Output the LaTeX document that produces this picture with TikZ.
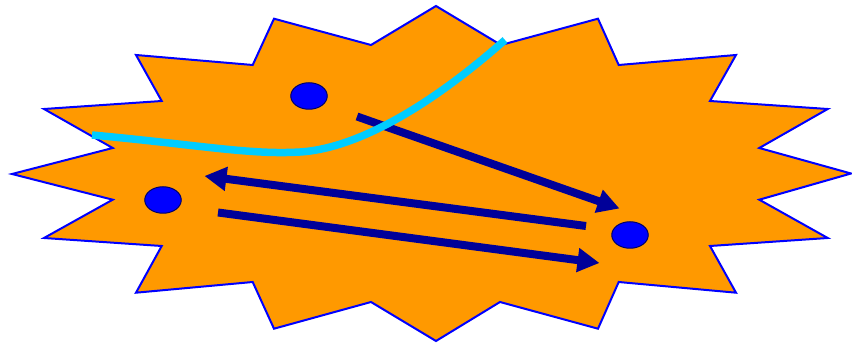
\documentclass[tikz,border=0pt]{standalone}
\usepackage{tikz}
\usetikzlibrary{arrows.meta,shapes.geometric}
\definecolor{burstorange}{HTML}{FF9900}
\definecolor{burstblue}{HTML}{0000FF}
\definecolor{arrownavy}{HTML}{000099}
\definecolor{curvecyan}{HTML}{00CCFF}
\definecolor{dotedge}{HTML}{000066}

\begin{document}
\begin{tikzpicture}[x=1pt, y=-1pt,
    dot/.style={draw=dotedge, fill=burstblue, ellipse, line width=1pt, minimum width=36.5pt, minimum height=26.5pt, inner sep=0pt},
    flow/.style={draw=arrownavy, line width=8pt, -{Triangle[length=22pt,width=23pt]}}]
  \useasboundingbox (0,0) rectangle (852,344);
  \draw[fill=burstorange, draw=burstblue, line width=2pt]
    (436,6) -- (501,45) -- (598,18.7) -- (618.7,65) -- (736,55) -- (710,101)
    -- (827.7,109) -- (759.3,148) -- (851,173.5) -- (759.3,199.7) -- (827.7,238)
    -- (710,246) -- (736,292.7) -- (618.7,282) -- (598,328.7) -- (500,302)
    -- (436,341) -- (371,302) -- (274,328.7) -- (252.7,282) -- (136,292.7)
    -- (161.7,246) -- (44,238) -- (112.7,199.7) -- (12,174) -- (112.7,148)
    -- (44,109) -- (161.7,101) -- (136,55) -- (252.7,65) -- (274,18.7)
    -- (371,45) -- cycle;
  \node[dot] (top) at (309,96) {};
  \node[dot] (left) at (163,200) {};
  \node[dot] (right) at (630,235) {};
  \coordinate (topout) at (357,116.5);
  \coordinate (rightin) at (619.5,208.5);
  \coordinate (rightout) at (586,226);
  \coordinate (leftin) at (204.5,176);
  \coordinate (leftout) at (218,212.5);
  \coordinate (lowin) at (599.5,263);
  \draw[flow] (topout) -- (rightin);
  \draw[flow] (rightout) -- (leftin);
  \draw[flow] (leftout) -- (lowin);
  \coordinate (cstart) at (92,135);
  \coordinate (cdip) at (300,152);
  \coordinate (cend) at (505,40);
  \draw[curvecyan, line width=7.5pt] (cstart) .. controls (200,145) and (250,155) .. (cdip)
    .. controls (350,149) and (420,115) .. (cend);
\end{tikzpicture}
\end{document}
